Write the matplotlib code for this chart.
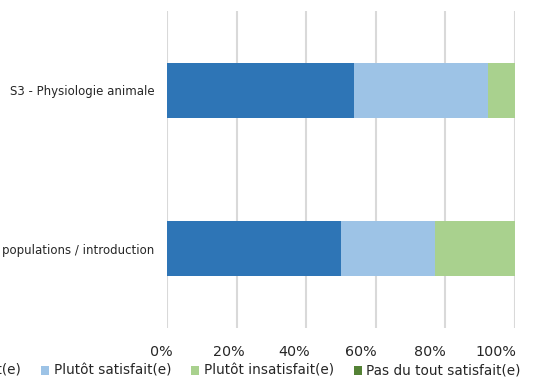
import matplotlib
matplotlib.use("Agg")
import matplotlib.pyplot as plt
import matplotlib.transforms as mtransforms
import numpy as np

categories = ["populations / introduction", "S3 - Physiologie animale"]
series_names = ["Très satisfait(e)", "Plutôt satisfait(e)", "Plutôt insatisfait(e)", "Pas du tout satisfait(e)"]
tres = [50.0, 53.8]
plutot_sat = [26.9, 38.5]
plutot_insat = [23.1, 7.7]
pas_du_tout = [0.0, 0.0]
colors = ["#2E75B6", "#9DC3E6", "#A9D18E", "#548235"]
xticks = [0, 20, 40, 60, 80, 100]

plt.rcParams['font.family'] = ['DejaVu Sans']
fig = plt.figure(figsize=(5.43, 3.78), dpi=100)
ax = fig.add_axes([167/543, 1-328/378, (515-167)/543, (328-11)/378])

y = np.arange(len(categories))
left = np.zeros(len(categories))
handles = []
for vals, name, c in zip([tres, plutot_sat, plutot_insat, pas_du_tout], series_names, colors):
    h = ax.barh(y, vals, left=left, height=0.35, color=c, label=name, zorder=3)
    handles.append(h)
    left = left + np.array(vals)

ax.set_xlim(0, 100)
ax.set_ylim(-0.5, 1.5)
ax.set_xticks(xticks)
ax.set_xticklabels([f"{v}%" for v in xticks], fontsize=10.3, color="#262626")
ax.set_yticks(y)
ax.set_yticklabels(categories, fontsize=8.5, color="#262626")
ax.grid(axis="x", color="#d9d9d9", linewidth=1.5, zorder=0)
for s in ax.spines.values():
    s.set_visible(False)
ax.tick_params(axis="both", length=0)
ax.tick_params(axis="x", pad=12)
ax.tick_params(axis="y", pad=9)

# reference labels drift left progressively relative to gridlines
shifts_px = [-6, -8, -12, -15, -16, -19]
for lab, dx in zip(ax.get_xticklabels(), shifts_px):
    lab.set_transform(lab.get_transform() + mtransforms.ScaledTranslation(dx/100, 0, fig.dpi_scale_trans))

leg = fig.legend(handles=handles, labels=series_names, loc="center", ncol=4,
                 bbox_to_anchor=(212/543, 1-371/378), frameon=False, fontsize=9.8,
                 handlelength=0.6, handleheight=0.6, handletextpad=0.35, columnspacing=1.45,
                 labelcolor="#262626")
fig.savefig("out.png", dpi=100)
